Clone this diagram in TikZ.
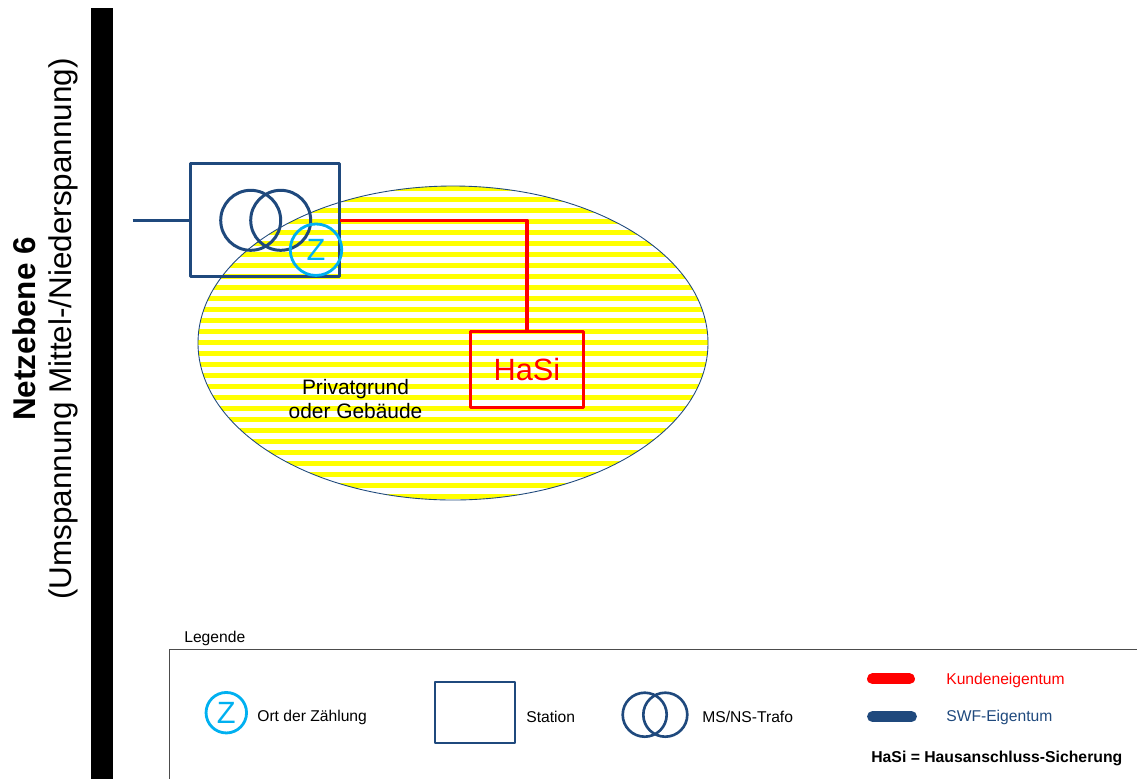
\documentclass[tikz,border=0pt]{standalone}
\usepackage{fontspec}
\setmainfont{Liberation Sans}
\definecolor{swfblue}{HTML}{1F497D}
\definecolor{zcyan}{HTML}{00B0F0}
\definecolor{kundered}{HTML}{FF0000}
\definecolor{stripeyellow}{HTML}{FFFF00}
\tikzset{
	boxnode/.style={draw,rectangle,inner sep=0pt,outer sep=0pt,line join=round},
	trafonode/.style={draw=swfblue,circle,inner sep=0pt,outer sep=0pt},
	zaehler/.style={draw=zcyan,circle,inner sep=0pt,outer sep=0pt,line width=1.6pt,text=zcyan,font=\fontsize{17.5}{20}\selectfont},
	legtext/.style={inner sep=0pt,font=\fontsize{8.9}{11}\selectfont},
	legline/.style={line width=6.2pt,line cap=round},
	sidetext/.style={rotate=90,inner sep=0pt,font=\fontsize{17.9}{21}\selectfont}
}
\begin{document}
\begin{tikzpicture}[x=0.02cm,y=-0.02cm]
	\useasboundingbox (0,0) rectangle (1137,779);
	% Balken und Beschriftung links
	\fill[black] (91,8) rectangle (113,779);
	\node[sidetext,font=\fontsize{17.9}{21}\selectfont\bfseries] (ebene) at (24,329) {Netzebene 6};
	\node[sidetext] (umspannung) at (63,329) {(Umspannung Mittel-/Niederspannung)};
	% Privatgrund
	\begin{scope}
		\clip (453,343) ellipse [x radius=255,y radius=157];
		\foreach \s in {0,...,28}
			\fill[stripeyellow] (190,186+11*\s) rectangle (715,190.9+11*\s);
	\end{scope}
	\draw[swfblue,line width=0.5pt] (453,343) ellipse [x radius=255,y radius=157];
	\node[align=center,inner sep=0pt,font=\fontsize{11.9}{13.6}\selectfont] (grund) at (355.5,399) {Privatgrund\\oder Gebäude};
	% Station mit Trafo
	\node[boxnode,draw=swfblue,line width=1.7pt,minimum width=2.986cm,minimum height=2.254cm] (station) at (265.35,220.3) {};
	\node[trafonode,line width=1.7pt,minimum size=1.2cm] (trafoa) at (250.7,220.3) {};
	\node[trafonode,line width=1.7pt,minimum size=1.2cm] (trafob) at (280.7,220.3) {};
	\coordinate (feed) at (132.7,220.3);
	\draw[swfblue,line width=1.7pt] (feed) -- (station.west);
	\node[zaehler,minimum size=1.03cm] (zort) at (316,249.7) {Z};
	% Hausanschluss
	\node[boxnode,draw=kundered,line width=1.8pt,minimum width=2.252cm,minimum height=1.512cm,text=kundered,font=\fontsize{17.5}{20}\selectfont] (hasi) at (527,369.5) {HaSi};
	\draw[kundered,line width=1.8pt,line join=round] (station.east) -| (hasi.north);
	% Legende
	\coordinate (legtr) at (1137,649);
	\coordinate (legbl) at (169,779);
	\draw[black!70,line width=0.5pt] (legtr) -| (legbl);
	\node[legtext,anchor=west] (legende) at (184,638) {Legende};
	\node[zaehler,minimum size=0.81cm] (legz) at (226.3,712.7) {Z};
	\node[legtext,anchor=west] (legzt) at (257,717) {Ort der Zählung};
	\node[boxnode,draw=swfblue,line width=1.1pt,minimum width=1.6cm,minimum height=1.208cm] (legstation) at (474.7,712.5) {};
	\node[legtext,anchor=west] (legstationt) at (526,716.5) {Station};
	\node[trafonode,line width=1.5pt,minimum size=0.88cm] (legtrafoa) at (644.7,714.7) {};
	\node[trafonode,line width=1.5pt,minimum size=0.88cm] (legtrafob) at (665.3,714.7) {};
	\node[legtext,anchor=west] (legtrafot) at (702,716.5) {MS/NS-Trafo};
	\coordinate (kundea) at (872.5,678.8);
	\coordinate (kundeb) at (909.5,678.8);
	\coordinate (swfa) at (872.5,716.5);
	\coordinate (swfb) at (911.5,716.5);
	\draw[legline,kundered] (kundea) -- (kundeb);
	\draw[legline,swfblue] (swfa) -- (swfb);
	\node[legtext,anchor=west,text=kundered] (kundet) at (946,680) {Kundeneigentum};
	\node[legtext,anchor=west,text=swfblue] (swft) at (946,717) {SWF-Eigentum};
	\node[legtext,anchor=west,font=\fontsize{8.97}{11}\selectfont\bfseries] (hasit) at (871,758) {HaSi = Hausanschluss-Sicherung};
\end{tikzpicture}
\end{document}
